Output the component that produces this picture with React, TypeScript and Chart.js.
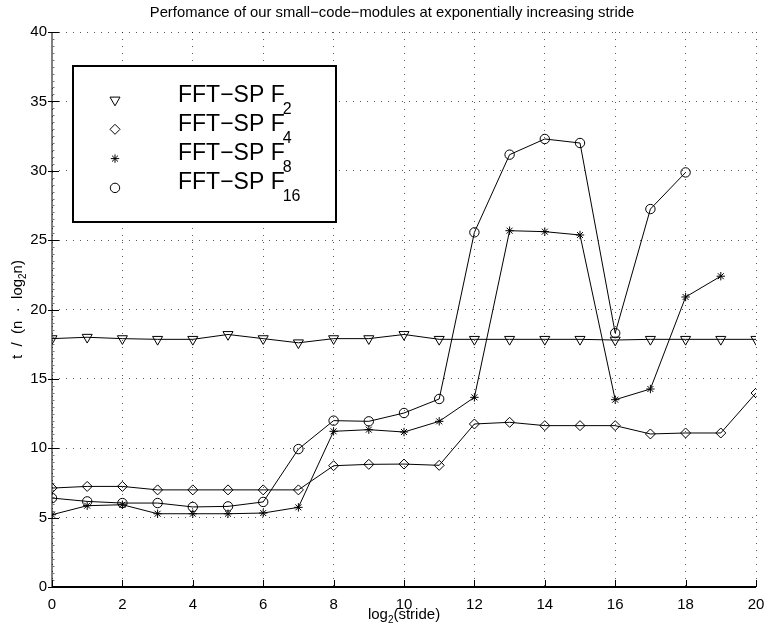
import React, { useEffect, useRef } from "react";
import { Chart, registerables } from "chart.js";
import { drawPoint } from "chart.js/helpers";

Chart.register(...registerables);

// log2(stride) sample positions
const strideExp = [0, 1, 2, 3, 4, 5, 6, 7, 8, 9, 10, 11, 12, 13, 14, 15, 16, 17, 18, 19, 20];

// t / (n · log2 n) per module
const fftF2 = [17.9, 18.0, 17.9, 17.85, 17.85, 18.2, 17.9, 17.6, 17.9, 17.9, 18.2, 17.85, 17.85, 17.85, 17.85, 17.85, 17.8, 17.85, 17.85, 17.85, 17.85];
const fftF4 = [7.13, 7.25, 7.25, 7.0, 7.0, 7.0, 7.0, 7.0, 8.74, 8.84, 8.86, 8.77, 11.75, 11.87, 11.63, 11.63, 11.63, 11.03, 11.1, 11.1, 13.98];
const fftF8 = [5.21, 5.86, 5.93, 5.28, 5.28, 5.28, 5.33, 5.74, 11.22, 11.34, 11.17, 11.94, 13.67, 25.68, 25.61, 25.37, 13.5, 14.27, 20.9, 22.4];
const fftF16 = [6.41, 6.17, 6.05, 6.05, 5.77, 5.81, 6.13, 9.94, 11.99, 11.94, 12.54, 13.55, 25.56, 31.16, 32.29, 32.0, 18.3, 27.24, 29.88];

const seriesNames = ["FFT−SP F", "FFT−SP F", "FFT−SP F", "FFT−SP F"];
const seriesSubs = ["2", "4", "8", "16"];
const seriesValues = [fftF2, fftF4, fftF8, fftF16];

const xTicks = [0, 2, 4, 6, 8, 10, 12, 14, 16, 18, 20];
const yTicks = [0, 5, 10, 15, 20, 25, 30, 35, 40];

const titleText = "Perfomance of our small−code−modules at exponentially increasing stride";

const FONT = "'Liberation Sans', Arial, Helvetica, sans-serif";

const markerStyles = [
  { pointStyle: "triangle", radius: 5.8, rotation: 180 },
  { pointStyle: "rectRot", radius: 5, rotation: 0 },
  { pointStyle: "star", radius: 4.2, rotation: 0 },
  { pointStyle: "circle", radius: 4.7, rotation: 0 },
];

function drawSubText(
  ctx: CanvasRenderingContext2D,
  parts: { t: string; sub?: boolean }[],
  x: number,
  y: number,
  size: number,
  subSize: number,
  subDy: number,
  align: "left" | "center"
) {
  const widths = parts.map((p) => {
    ctx.font = `${p.sub ? subSize : size}px ${FONT}`;
    return ctx.measureText(p.t).width;
  });
  const total = widths.reduce((a, b) => a + b, 0);
  let cx = align === "center" ? x - total / 2 : x;
  ctx.textAlign = "left";
  ctx.textBaseline = "alphabetic";
  parts.forEach((p, i) => {
    ctx.font = `${p.sub ? subSize : size}px ${FONT}`;
    ctx.fillText(p.t, cx, p.sub ? y + subDy : y);
    cx += widths[i];
  });
}

const decorPlugin = {
  id: "decor",
  beforeDatasetsDraw(chart: any) {
    const { ctx, chartArea } = chart;
    const xs = chart.scales.x;
    const ys = chart.scales.y;
    ctx.save();
    // left axis with minor ticks
    ctx.strokeStyle = "#000";
    ctx.lineWidth = 1;
    ctx.beginPath();
    ctx.moveTo(chartArea.left, chartArea.top);
    ctx.lineTo(chartArea.left, chartArea.bottom);
    ctx.stroke();
    ctx.strokeStyle = "#777";
    for (let v = 0; v <= 40; v += 0.5) {
      const py = Math.round(ys.getPixelForValue(v)) + 0.5;
      ctx.beginPath();
      ctx.moveTo(chartArea.left, py);
      ctx.lineTo(chartArea.left + 2.5, py);
      ctx.stroke();
    }
    ctx.strokeStyle = "#000";
    yTicks.forEach((v) => {
      const py = Math.round(ys.getPixelForValue(v)) + 0.5;
      ctx.beginPath();
      ctx.moveTo(chartArea.left - 4, py);
      ctx.lineTo(chartArea.left + 7, py);
      ctx.stroke();
    });
    // bottom axis
    ctx.lineWidth = 2;
    ctx.beginPath();
    ctx.moveTo(chartArea.left, chartArea.bottom);
    ctx.lineTo(chartArea.right, chartArea.bottom);
    ctx.stroke();
    ctx.lineWidth = 1;
    xTicks.forEach((v) => {
      const px = Math.round(xs.getPixelForValue(v)) + 0.5;
      ctx.beginPath();
      ctx.moveTo(px, chartArea.bottom);
      ctx.lineTo(px, chartArea.bottom - 7);
      ctx.stroke();
    });
    ctx.restore();
  },
  afterDraw(chart: any) {
    const { ctx, chartArea } = chart;
    const midX = (chartArea.left + chartArea.right) / 2;
    const midY = (chartArea.top + chartArea.bottom) / 2;
    ctx.save();
    ctx.fillStyle = "#000";

    // title
    ctx.font = `14.8px ${FONT}`;
    ctx.textAlign = "center";
    ctx.textBaseline = "middle";
    ctx.fillText(titleText, midX - 12, 13);

    // x axis title
    drawSubText(ctx, [{ t: "log" }, { t: "2", sub: true }, { t: "(stride)" }], midX, 619, 15, 10, 4, "center");

    // y axis title
    ctx.save();
    ctx.translate(22, midY);
    ctx.rotate(-Math.PI / 2);
    drawSubText(ctx, [{ t: "t  /  (n  ·  log" }, { t: "2", sub: true }, { t: "n)" }], 0, 0, 15, 10, 4, "center");
    ctx.restore();

    // legend
    const lx = 73, ly = 66, lw = 263, lh = 156;
    ctx.fillStyle = "#fff";
    ctx.fillRect(lx, ly, lw, lh);
    ctx.strokeStyle = "#000";
    ctx.lineWidth = 2;
    ctx.strokeRect(lx, ly, lw, lh);
    ctx.fillStyle = "#000";
    seriesNames.forEach((name, i) => {
      const base = 101.5 + 29.3 * i;
      const m = markerStyles[i];
      ctx.save();
      ctx.strokeStyle = "#000";
      ctx.fillStyle = "rgba(0,0,0,0)";
      ctx.lineWidth = 1;
      drawPoint(ctx, { pointStyle: m.pointStyle, radius: m.radius, rotation: m.rotation, borderWidth: 1 } as any, 115, base - 1.5);
      ctx.restore();
      ctx.font = `23px ${FONT}`;
      const w = ctx.measureText(name).width;
      ctx.textAlign = "left";
      ctx.textBaseline = "alphabetic";
      ctx.fillText(name, 178, base);
      ctx.font = `16px ${FONT}`;
      ctx.fillText(seriesSubs[i], 178 + w - 2, base + 12);
    });
    ctx.restore();
  },
};

export default function App() {
  const canvasRef = useRef<HTMLCanvasElement | null>(null);

  useEffect(() => {
    const canvas = canvasRef.current;
    if (!canvas) return;
    const datasets = seriesValues.map((vals, i) => ({
      label: seriesNames[i] + seriesSubs[i],
      data: vals.map((v, j) => ({ x: strideExp[j], y: v })),
      borderColor: "#000",
      borderWidth: 1,
      backgroundColor: "rgba(0,0,0,0)",
      pointStyle: markerStyles[i].pointStyle as any,
      pointRadius: markerStyles[i].radius,
      pointRotation: markerStyles[i].rotation,
      pointBorderColor: "#000",
      pointBackgroundColor: "rgba(0,0,0,0)",
      pointBorderWidth: 1,
      tension: 0,
      fill: false,
    }));

    const chart = new Chart(canvas, {
      type: "line",
      data: { datasets },
      options: {
        animation: false,
        responsive: false,
        layout: { padding: { top: 32, right: 11, left: 0, bottom: 0 } },
        plugins: {
          legend: { display: false },
          title: { display: false },
          tooltip: { enabled: false },
        },
        scales: {
          x: {
            type: "linear",
            min: 0,
            max: 20,
            afterFit: (s: any) => {
              s.height = 50;
              s.paddingLeft = 0;
              s.paddingRight = 0;
            },
            afterBuildTicks: (s: any) => {
              s.ticks = xTicks.map((v) => ({ value: v }));
            },
            ticks: {
              font: { family: FONT, size: 15 },
              color: "#000",
              padding: 9,
              maxRotation: 0,
              autoSkip: false,
            },
            grid: {
              color: "rgba(0,0,0,0.65)",
              lineWidth: 1,
              drawTicks: false,
            },
            border: { display: false, dash: [1, 6] },
          },
          y: {
            type: "linear",
            min: 0,
            max: 40,
            afterFit: (s: any) => {
              s.width = 52;
              s.paddingTop = 0;
              s.paddingBottom = 0;
            },
            afterBuildTicks: (s: any) => {
              s.ticks = yTicks.map((v) => ({ value: v }));
            },
            ticks: {
              font: { family: FONT, size: 15 },
              color: "#000",
              padding: 5,
              autoSkip: false,
            },
            grid: {
              color: "rgba(0,0,0,0.65)",
              lineWidth: 1,
              drawTicks: false,
            },
            border: { display: false, dash: [1, 6] },
          },
        },
      },
      plugins: [decorPlugin],
    });
    return () => chart.destroy();
  }, []);

  return (
    <div style={{ position: "fixed", left: 0, top: 0, width: 767, height: 637, background: "#fff" }}>
      <canvas ref={canvasRef} width={767} height={637} style={{ display: "block" }} />
    </div>
  );
}
